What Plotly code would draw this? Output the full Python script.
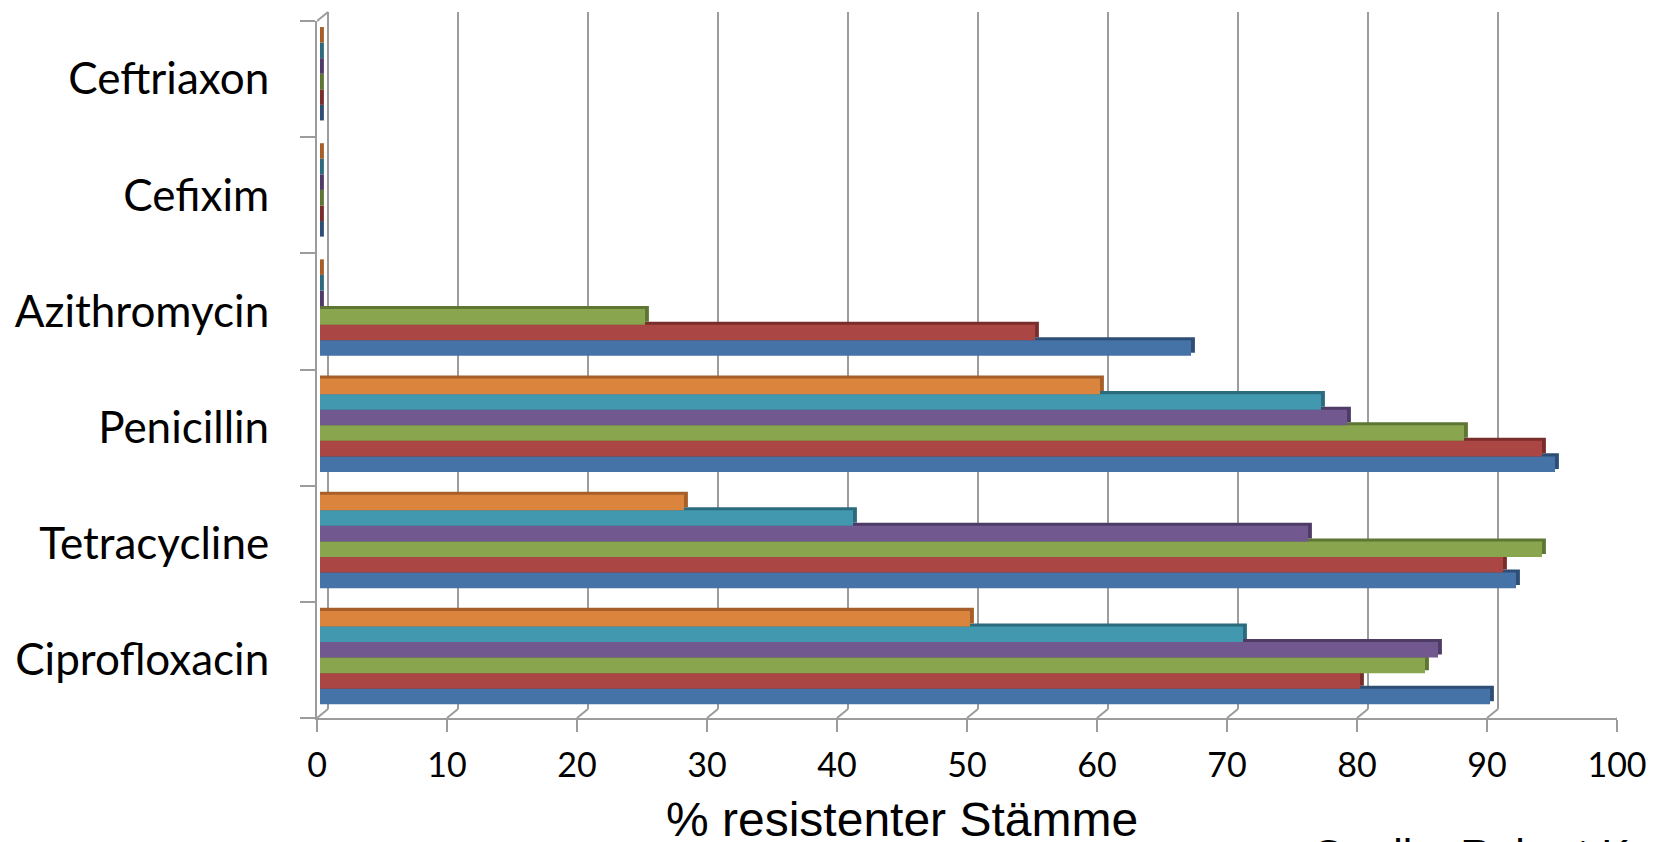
import plotly.graph_objects as go

# Antibiotics, listed bottom to top on the category axis
kategorien = ["Ciprofloxacin", "Tetracycline", "Penicillin", "Azithromycin", "Cefixim", "Ceftriaxon"]

# Percentage of resistant strains per series (bottom bar to top bar in each group)
reihe_1 = [90, 92, 95, 67, 0, 0]
reihe_2 = [80, 91, 94, 55, 0, 0]
reihe_3 = [85, 94, 88, 25, 0, 0]
reihe_4 = [86, 76, 79, 0, 0, 0]
reihe_5 = [71, 41, 77, 0, 0, 0]
reihe_6 = [50, 28, 60, 0, 0, 0]

x_ticks = [0, 10, 20, 30, 40, 50, 60, 70, 80, 90, 100]

reihen = [reihe_1, reihe_2, reihe_3, reihe_4, reihe_5, reihe_6]
farben = ["#4572A7", "#AA4643", "#89A54E", "#71588F", "#4198AF", "#DB843D"]
schatten = ["#2E4E76", "#7A2E2C", "#5E7634", "#4E3C67", "#2B6B7D", "#A65F28"]

# geometry of the pseudo-3D look
W, H = 1660, 842
L, R, T, B = 317, 43, 21, 124
PLOT_W = W - L - R
PLOT_H = H - T - B
PX_PER_UNIT = PLOT_W / 100
DX, DY = 11, 9              # back wall offset in pixels
BAR_SHIFT = 3               # bars sit slightly behind the front edge (pixels)
BAR_W = 0.134                # bar thickness in category units
GROUP_SHIFT = 0.02
DEPTH_X = 0.3                # extrusion length in value units
DEPTH_Y = 0.026              # extrusion height in category units

fig = go.Figure()

# extruded faces (top + end) drawn first, behind the front faces
for k, (werte, col) in enumerate(zip(reihen, schatten)):
    off = -0.5 + (1 - 6 * BAR_W) / 2 + GROUP_SHIFT + k * BAR_W
    fig.add_trace(go.Bar(
        y=kategorien, x=[v + DEPTH_X for v in werte], orientation="h",
        xaxis="x2", yaxis="y",
        offset=off + DEPTH_Y, width=BAR_W, marker=dict(color=col, line=dict(width=0)),
        showlegend=False, hoverinfo="skip"))

# front faces
for k, (werte, col) in enumerate(zip(reihen, farben)):
    off = -0.5 + (1 - 6 * BAR_W) / 2 + GROUP_SHIFT + k * BAR_W
    fig.add_trace(go.Bar(
        y=kategorien, x=werte, orientation="h", name=f"Reihe {k + 1}",
        xaxis="x2", yaxis="y",
        offset=off, width=BAR_W, marker=dict(color=col, line=dict(width=0)),
        showlegend=False))

GRID = "#9C9C9C"
shapes = []
# back wall gridlines and floor edges
for v in x_ticks:
    shapes.append(dict(type="line", layer="below", xref="x", yref="paper",
                       xsizemode="pixel", xanchor=v, x0=DX, x1=DX,
                       ysizemode="pixel", yanchor=0, y0=DY, y1=DY + PLOT_H,
                       line=dict(color=GRID, width=2)))
    shapes.append(dict(type="line", layer="below", xref="x", yref="paper",
                       xsizemode="pixel", xanchor=v, x0=0, x1=DX,
                       ysizemode="pixel", yanchor=0, y0=0, y1=DY,
                       line=dict(color=GRID, width=2)))
# top edge of the side wall
shapes.append(dict(type="line", layer="below", xref="x", yref="paper",
                   xsizemode="pixel", xanchor=0, x0=0, x1=DX,
                   ysizemode="pixel", yanchor=1, y0=0, y1=DY,
                   line=dict(color=GRID, width=2)))

fig.update_layout(
    width=W, height=H,
    margin=dict(l=L, r=R, t=T, b=B, pad=0),
    paper_bgcolor="white", plot_bgcolor="rgba(0,0,0,0)",
    barmode="overlay",
    shapes=shapes,
    xaxis=dict(range=[0, 100], tickvals=x_ticks, ticks="outside", ticklen=12,
               tickwidth=2, tickcolor=GRID, showline=True, linecolor=GRID,
               linewidth=2, showgrid=False, zeroline=False,
               ticklabelstandoff=4,
               tickfont=dict(family="Lato", size=34, color="#000000")),
    # value axis of the bar plane, a few pixels behind the front edge, same scale
    xaxis2=dict(domain=[BAR_SHIFT / PLOT_W, 1],
                range=[0, 100 - BAR_SHIFT / PX_PER_UNIT], anchor="y",
                visible=False, showgrid=False, zeroline=False),
    yaxis=dict(type="category", categoryorder="array", categoryarray=kategorien,
               range=[-0.5, 5.5], tickson="boundaries", ticks="outside",
               ticklen=15, tickwidth=2, tickcolor=GRID, showline=True,
               linecolor=GRID, linewidth=2, showgrid=False, zeroline=False,
               ticklabelstandoff=37,
               tickfont=dict(family="Lato", size=44, color="#000000")),
    annotations=[
        dict(text="% resistenter Stämme", xref="paper", yref="paper",
             x=(902 - L) / PLOT_W, y=(718 - 820) / PLOT_H, xanchor="center",
             yanchor="middle", showarrow=False,
             font=dict(family="Liberation Sans, Arial", size=48, color="#000000")),
        dict(text="Quelle: Robert Koch-Institut", xref="paper", yref="paper",
             x=(1310 - L) / PLOT_W, y=(718 - 828) / PLOT_H, xanchor="left",
             yanchor="top", showarrow=False,
             font=dict(family="Liberation Sans, Arial", size=43, color="#000000")),
    ],
)

fig.write_html("out.html")
